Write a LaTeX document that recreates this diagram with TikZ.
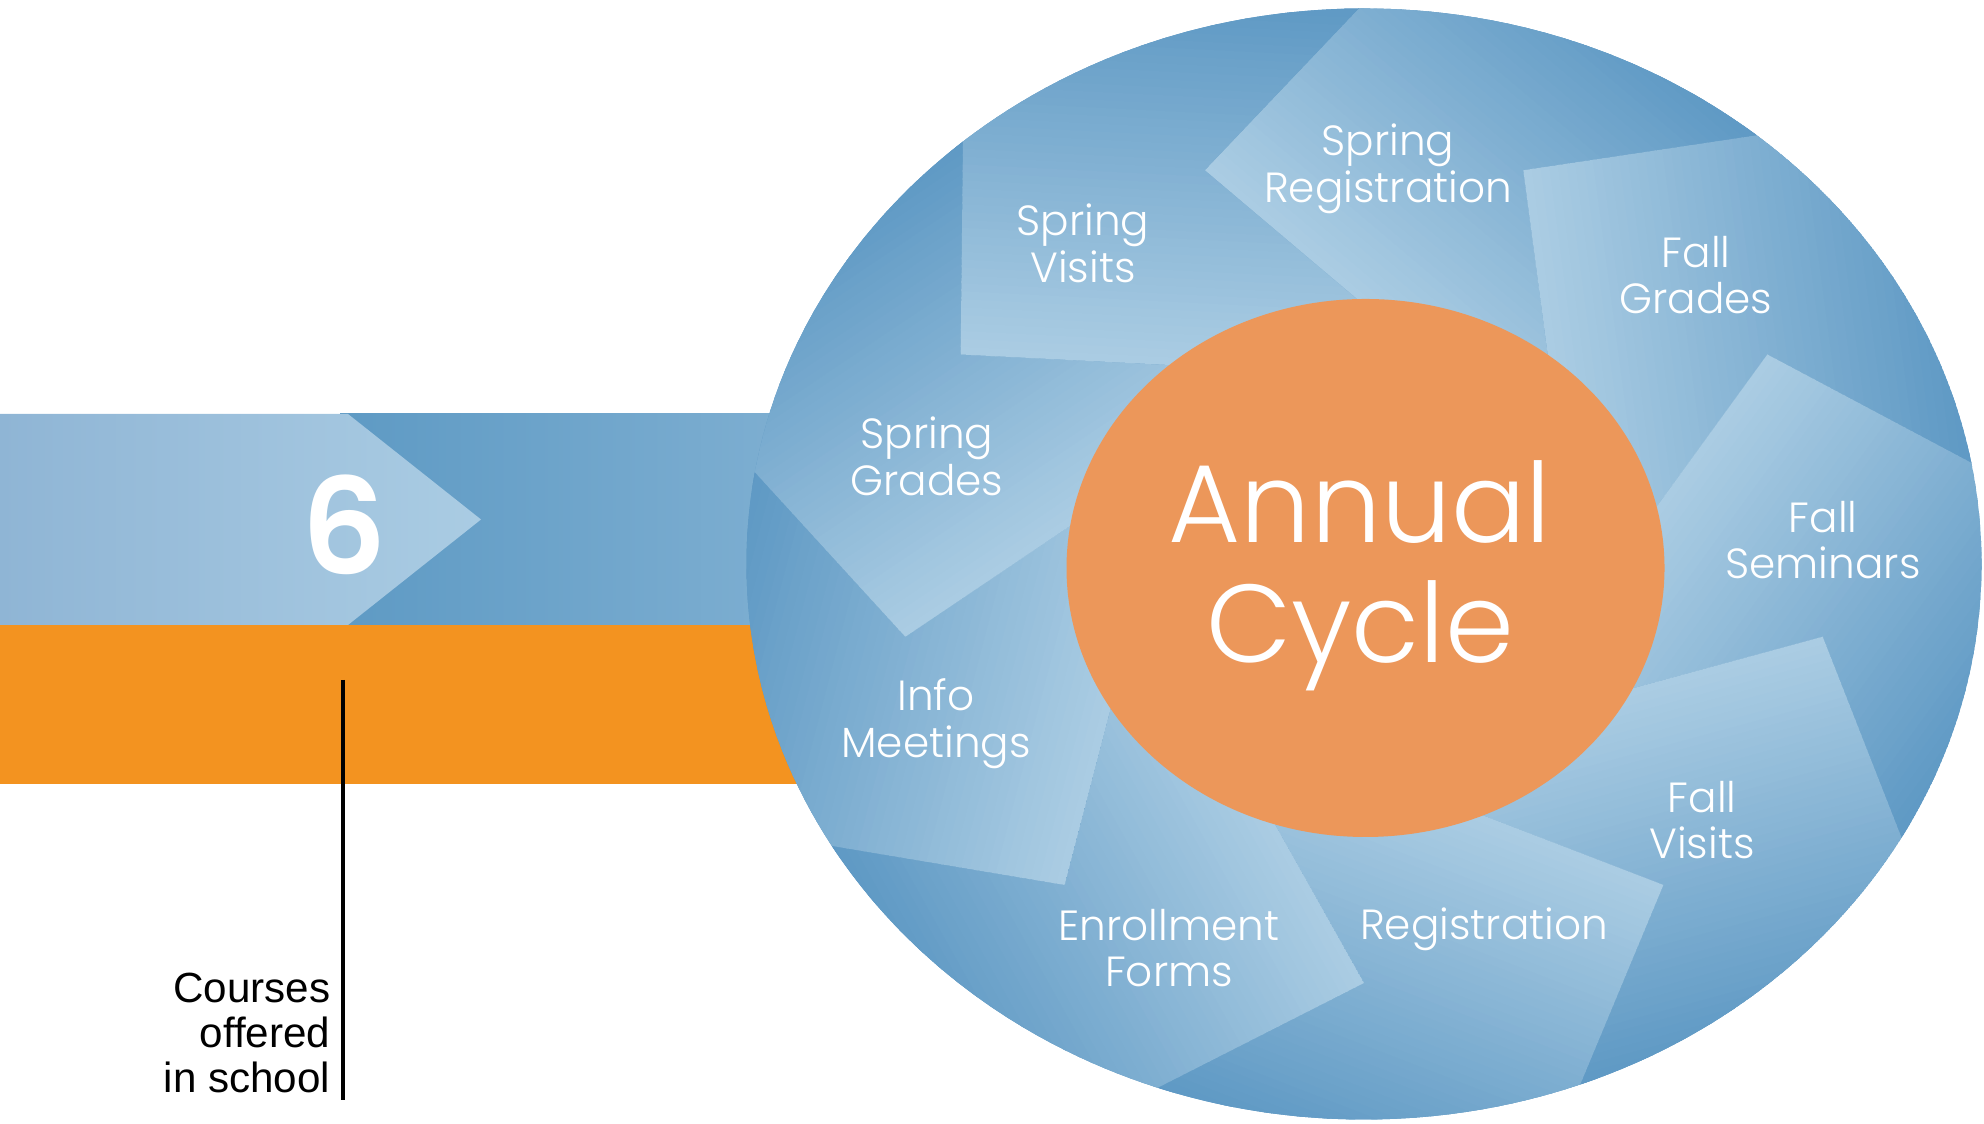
\documentclass[tikz,border=0pt]{standalone}
\usepackage{fontspec}
\setmainfont{Poppins}[UprightFont=* Light, BoldFont=* SemiBold]
\newfontfamily\arialfont{Liberation Sans}

\definecolor{bluelight}{RGB}{170,204,227}
\definecolor{bluedark}{RGB}{92,151,195}
\definecolor{bandlight}{RGB}{143,181,213}
\definecolor{banddark}{RGB}{94,154,196}
\definecolor{bandmid}{RGB}{128,176,210}
\definecolor{orangeband}{RGB}{243,147,32}
\definecolor{orangecore}{RGB}{236,151,90}

\tikzset{
  bladetext/.style={text=white, align=center, inner sep=0pt,
    font=\fontsize{12}{13.3}\selectfont},
  coretext/.style={text=white, align=center, inner sep=0pt,
    font=\fontsize{31.5}{34}\selectfont},
}

\begin{document}
\begin{tikzpicture}
  \useasboundingbox (0,0) rectangle (19.84,11.24);

  % Coordinates
  \coordinate (hub) at (13.64,5.60);
  \coordinate (core) at (13.655,5.56);
  \coordinate (tick top) at (3.43,4.44);
  \coordinate (tick bottom) at (3.43,0.24);

  % Band
  \fill[orangeband] (0,3.40) rectangle (8.5,5.00);
  \shade[left color=banddark, right color=bandmid] (3.4,4.99) rectangle (8.2,7.10);
  \shade[left color=bandlight, right color=bluelight] (0,7.10) -- (3.48,7.10)
    -- (4.81,6.045) -- (3.48,4.99) -- (0,4.99) -- cycle;

  % Wheel: nine folded blades, light along each fold
  \begin{scope}[shift={(hub)}, xscale=1.1116]
    \clip (0,0) circle (5.555);
    \fill[bluedark] (0,0) circle (5.555);
    \foreach \k in {0,...,8} {
      \begin{scope}[rotate=-40*\k]
        \clip (82.4:2.32) -- (110:4.19) -- (90.5:5.555) -- (90.5:7)
          -- (50.5:7) -- (50.5:5.555) -- (70:4.19) -- (42.4:2.32) -- (0,0) -- cycle;
        \begin{scope}[shift={(110:4.19)}, rotate=46.8]
          \fill[bluelight] (-8,-8) rectangle (0,8);
          \fill[bluedark] (3.8,-8) rectangle (8,8);
          \foreach \i [evaluate=\i as \p using int(100*\i/47)] in {0,...,47}
            \fill[bluedark!\p!bluelight] (0.0792*\i,-8) rectangle (0.0792*\i+0.1,8);
        \end{scope}
      \end{scope}
    }
  \end{scope}

  % Core
  \fill[orangecore] (core) ellipse [x radius=2.99, y radius=2.69];

  % Labels
  \node[coretext] (cycle) at (13.60,5.48) {Annual\\Cycle};
  \node[bladetext] (spring reg) at (13.88,9.55) {Spring\\Registration};
  \node[bladetext] (fall grades) at (16.96,8.49) {Fall\\Grades};
  \node[bladetext] (fall sem) at (18.23,5.84) {Fall\\Seminars};
  \node[bladetext] (fall visits) at (17.02,3.04) {Fall\\Visits};
  \node[bladetext] (registration) at (14.84,1.95) {Registration};
  \node[bladetext] (enrollment) at (11.69,1.76) {Enrollment\\Forms};
  \node[bladetext] (info) at (9.36,4.00) {Info\\Meetings};
  \node[bladetext] (spring grades) at (9.27,6.68) {Spring\\Grades};
  \node[bladetext] (spring visits) at (10.83,8.81) {Spring\\Visits};

  % Number and courses
  \node[text=white, inner sep=0pt, font=\bfseries\fontsize{38}{40}\selectfont]
    (six) at (3.44,5.99) {6};
  \draw[line width=1.4pt] (tick top) -- (tick bottom);
  \node[anchor=north east, inner sep=0pt, align=right,
    font=\arialfont\fontsize{12}{12.8}\selectfont] (courses) at (3.31,1.52)
    {Courses\\offered\\in school};
\end{tikzpicture}
\end{document}
